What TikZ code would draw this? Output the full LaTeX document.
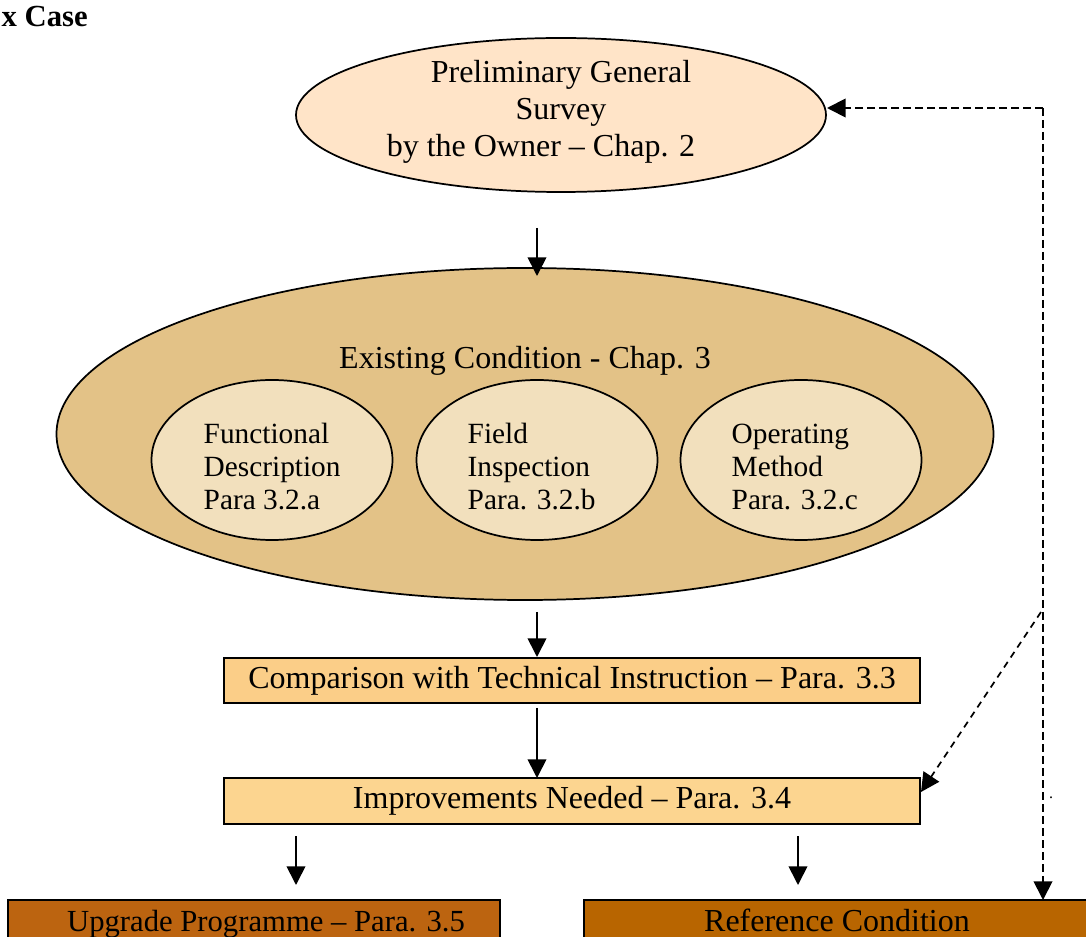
\documentclass[tikz,border=0pt]{standalone}
\usepackage{fontspec}
\setmainfont{Liberation Serif}
\usetikzlibrary{arrows.meta,shapes.geometric}
\definecolor{peach}{HTML}{FFE4C8}
\definecolor{tan}{HTML}{E3C287}
\definecolor{cream}{HTML}{F2E0BD}
\definecolor{boxa}{HTML}{FBCE88}
\definecolor{boxb}{HTML}{FCD590}
\definecolor{rust}{HTML}{BC6410}
\definecolor{rustb}{HTML}{B86500}
\tikzset{
  txt/.style={font=\fontsize{24}{27.75}\selectfont},
  itxt/.style={font=\fontsize{22}{24.75}\selectfont, align=left, anchor=west},
  ell/.style={ellipse, draw=black, line width=1.3pt, inner sep=0pt},
  rbox/.style={rectangle, draw=black, line width=1.6pt, inner sep=0pt},
  arr/.style={line width=1.3pt, -{Triangle[length=14pt,width=14pt]}},
  darr/.style={line width=1.4pt, dash pattern=on 6pt off 3pt, -{Triangle[length=14pt,width=14pt]}},
  ddiag/.style={line width=1.3pt, dash pattern=on 5pt off 4pt, -{Triangle[length=14pt,width=14pt]}},
}
\begin{document}
\begin{tikzpicture}[x=0.75pt,y=-0.75pt]
\useasboundingbox (0,0) rectangle (1086,937);
\clip (0,0) rectangle (1086,937);
\node[font=\fontsize{23}{26}\selectfont\bfseries, anchor=west] (title) at (-3,17) {x Case};
% top ellipse
\node[ell, fill=peach, minimum width=530*0.75pt, minimum height=154*0.75pt] (pgs) at (561,115) {};
\node[txt, align=center] (pgst) at (561,112) {Preliminary General\\Survey\\by the Owner -- Chap. 2\hspace*{30pt}};
% big ellipse
\node[ell, fill=tan, minimum width=937*0.75pt, minimum height=332*0.75pt] (ec) at (525,434) {};
\node[txt] (ect) at (525,361) {Existing Condition - Chap. 3};
\node[ell, fill=cream, minimum width=241*0.75pt, minimum height=160*0.75pt] (fd) at (272,460) {};
\node[ell, fill=cream, minimum width=241*0.75pt, minimum height=160*0.75pt] (fi) at (537,460) {};
\node[ell, fill=cream, minimum width=241*0.75pt, minimum height=160*0.75pt] (om) at (801,460) {};
\node[itxt] (fdt) at (199,467) {Functional\\Description\\Para 3.2.a};
\node[itxt] (fit) at (463,467) {Field\\Inspection\\Para. 3.2.b};
\node[itxt] (omt) at (727,467) {Operating\\Method\\Para. 3.2.c};
% boxes
\node[rbox, txt, fill=boxa, minimum width=696*0.75pt, minimum height=45*0.75pt] (cmp) at (572,680.5) {Comparison with Technical Instruction -- Para. 3.3};
\node[rbox, txt, fill=boxb, minimum width=696*0.75pt, minimum height=46*0.75pt] (imp) at (572,801) {Improvements Needed -- Para. 3.4};
\node[rbox, fill=rust, minimum width=492*0.75pt, minimum height=76*0.75pt] (upg) at (254,938) {};
\node[rbox, fill=rustb, minimum width=520*0.75pt, minimum height=76*0.75pt] (ref) at (844,938) {};
\node[font=\fontsize{23}{26}\selectfont, anchor=base] (upgt) at (266,931) {Upgrade Programme -- Para. 3.5};
\node[txt, anchor=base] (reft) at (837,931) {Reference Condition};
% coordinates
\coordinate (a1s) at (537,228);
\coordinate (a1e) at (537,276);
\coordinate (a2s) at (537,612);
\coordinate (a2e) at (537,657);
\coordinate (a3s) at (537,708);
\coordinate (a3e) at (537,778);
\coordinate (a4s) at (296,836);
\coordinate (a4e) at (296,885);
\coordinate (a5s) at (798,836);
\coordinate (a5e) at (798,885);
\coordinate (tr) at (1043,108);
\coordinate (bt) at (1043,900);
\coordinate (dg) at (1041,612);
\coordinate (pe) at (827,108);
\coordinate (ie) at (921,792);
\draw[arr] (a1s) -- (a1e);
\draw[arr] (a2s) -- (a2e);
\draw[arr] (a3s) -- (a3e);
\draw[arr] (a4s) -- (a4e);
\draw[arr] (a5s) -- (a5e);
\draw[darr] (tr) -- (pe);
\draw[darr] (tr) -- (bt);
\draw[ddiag] (dg) -- (ie);
\node[font=\fontsize{12}{12}\selectfont] (dot) at (1051,798) {.};
\end{tikzpicture}
\end{document}
